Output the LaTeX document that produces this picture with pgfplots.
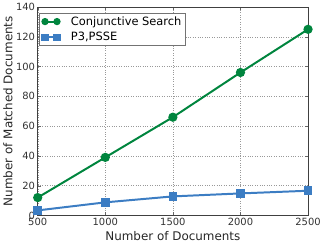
\documentclass[border=0pt]{standalone}
\usepackage{pgfplots}
\pgfplotsset{compat=1.18}
\usepackage{fontspec}
\setmainfont{DejaVu Sans}
\definecolor{cgreen}{RGB}{0,133,62}
\definecolor{cblue}{RGB}{60,125,195}
\begin{document}
\begin{tikzpicture}
\begin{axis}[
  scale only axis,
  width=271bp, height=209bp,
  xmin=500, xmax=2500, ymin=0, ymax=140,
  xtick={500,1000,1500,2000,2500},
  ytick={0,20,40,60,80,100,120,140},
  /pgf/number format/assume math mode=true,
  /pgf/number format/1000 sep={},
  tick label style={font=\fontsize{10}{12}\selectfont, text=black!80, inner sep=0pt, text height=7.3bp, text depth=0pt},
  xticklabel style={yshift=-2.5bp},
  yticklabel style={xshift=-2.5bp},
  label style={font=\fontsize{12}{14}\selectfont, text=black!85},
  xlabel={Number of Documents},
  ylabel={Number of Matched Documents},
  xlabel style={yshift=-3bp},
  ylabel style={yshift=0bp},
  axis line style={black!75, line width=0.7pt},
  tick style={black!60},
  major tick length=3pt,
  tick align=inside,
  grid=major,
  grid style={dotted, black!40},
  legend cell align=left,
  legend style={font=\fontsize{11.5}{13}\selectfont, draw=black!55, inner sep=1.5pt, row sep=1.5pt,
    at={(0.006,0.972)}, anchor=north west},
  legend image code/.code={
    \draw[#1, mark size=2.6pt, mark repeat=1] plot coordinates {(0bp,0bp) (12bp,0bp)};
    \path (-3bp,0bp) (23bp,0bp);
  },
]
\addplot[cgreen, line width=2pt, mark=*, mark size=3.6pt] coordinates {
  (500,12) (1000,39) (1500,66) (2000,96) (2500,125)};
\addlegendentry{Conjunctive Search}
\addplot[cblue, line width=2pt, mark=square*, mark size=3.3pt] coordinates {
  (500,3.4) (1000,8.8) (1500,12.8) (2000,14.8) (2500,16.6)};
\addlegendentry{P3,PSSE}
\end{axis}
\path ([xshift=-37bp,yshift=7bp]current axis.north west);
\path ([xshift=16bp,yshift=-29bp]current axis.south east);
\end{tikzpicture}
\end{document}
